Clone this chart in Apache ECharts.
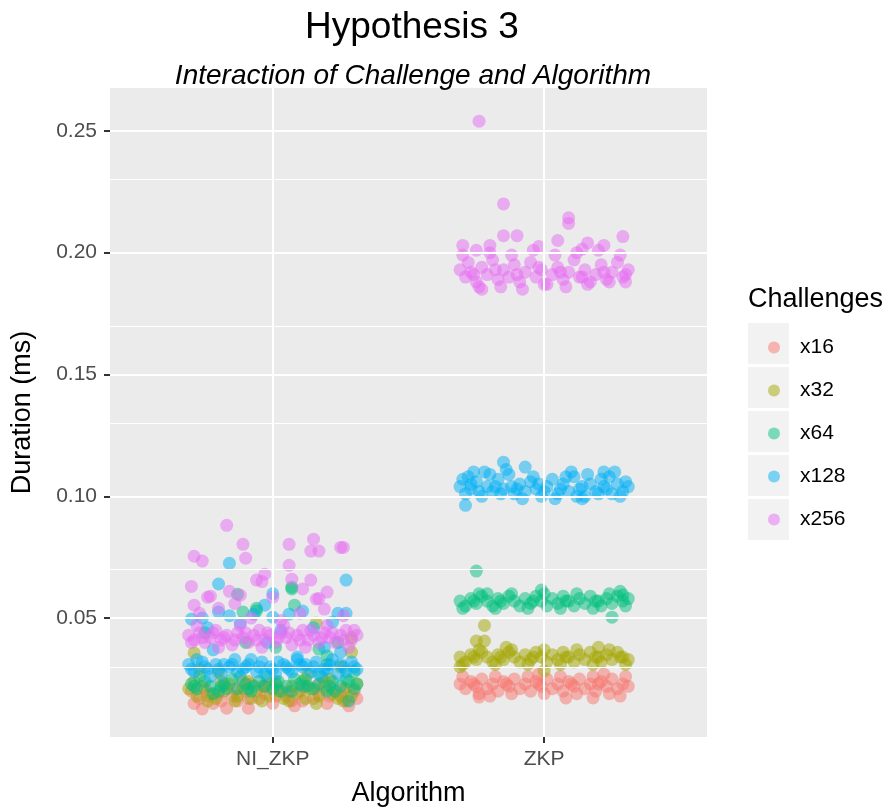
<!DOCTYPE html>
<html>
<head>
<meta charset="utf-8">
<script src="https://cdn.jsdelivr.net/npm/echarts@6/dist/echarts.min.js"></script>
<style>
  html, body { margin: 0; padding: 0; background: #fff; }
  #chart { width: 889px; height: 812px; }
</style>
</head>
<body>
<div id="chart"></div>
<script>
// categories / legend
const algorithms = ['NI_ZKP', 'ZKP']
const challenges = ['x16', 'x32', 'x64', 'x128', 'x256']
const colors = ['#F8766D', '#A3A500', '#00BF7D', '#00B0F6', '#E76BF3']
const yTicks = [0.05, 0.10, 0.15, 0.20, 0.25]
const yMinor = [0.025, 0.075, 0.125, 0.175, 0.225]

// points: [jitter offset from category, duration]
const ni16 = [[-0.30,0.020],[-0.27,0.017],[-0.25,0.021],[-0.22,0.015],[-0.20,0.019],[-0.18,0.022],[-0.15,0.018],[-0.13,0.016],[-0.10,0.020],[-0.08,0.023],[-0.05,0.017],[-0.03,0.019],[0.00,0.015],[0.02,0.021],[0.05,0.018],[0.07,0.016],[0.10,0.020],[0.12,0.022],[0.15,0.017],[0.17,0.019],[0.20,0.015],[0.22,0.021],[0.25,0.018],[0.27,0.016],[0.30,0.020],[-0.29,0.015],[-0.24,0.018],[-0.19,0.016],[-0.14,0.021],[-0.09,0.017],[-0.04,0.022],[0.01,0.018],[0.06,0.020],[0.11,0.016],[0.16,0.022],[0.21,0.018],[0.26,0.021],[0.31,0.017],[-0.26,0.0127],[-0.09,0.013],[0.08,0.014],[-0.11,0.024],[0.19,0.024],[-0.01,0.023],[0.28,0.014],[-0.17,0.013]]
const ni32 = [[-0.31,0.021],[-0.28,0.018],[-0.26,0.022],[-0.23,0.019],[-0.21,0.017],[-0.18,0.020],[-0.16,0.023],[-0.13,0.018],[-0.11,0.021],[-0.08,0.017],[-0.06,0.020],[-0.03,0.022],[-0.01,0.018],[0.02,0.020],[0.04,0.017],[0.07,0.022],[0.09,0.019],[0.12,0.017],[0.14,0.021],[0.17,0.018],[0.19,0.022],[0.22,0.019],[0.24,0.017],[0.27,0.021],[0.29,0.018],[0.31,0.023],[-0.29,0.024],[-0.24,0.016],[-0.19,0.024],[-0.14,0.016],[-0.09,0.024],[-0.04,0.016],[0.01,0.024],[0.06,0.016],[0.11,0.024],[0.16,0.015],[0.21,0.025],[0.26,0.016],[-0.29,0.0357],[0.29,0.036],[0.29,0.042],[0.16,0.048],[-0.20,0.028],[0.25,0.030],[0.13,0.027],[-0.27,0.029]]
const ni64 = [[-0.30,0.023],[-0.28,0.021],[-0.25,0.024],[-0.23,0.022],[-0.20,0.020],[-0.18,0.023],[-0.15,0.025],[-0.13,0.021],[-0.10,0.023],[-0.08,0.020],[-0.05,0.024],[-0.03,0.022],[0.00,0.021],[0.02,0.024],[0.05,0.022],[0.07,0.020],[0.10,0.023],[0.12,0.025],[0.15,0.021],[0.17,0.023],[0.20,0.020],[0.22,0.024],[0.25,0.022],[0.27,0.025],[0.30,0.021],[-0.27,0.026],[-0.22,0.019],[-0.17,0.021],[-0.12,0.026],[-0.07,0.022],[-0.02,0.026],[0.03,0.020],[0.08,0.025],[0.13,0.022],[0.18,0.026],[0.23,0.020],[0.28,0.024],[0.28,0.016],[-0.29,0.022],[-0.19,0.022],[-0.09,0.021],[0.01,0.023],[0.11,0.022],[0.21,0.022],[0.31,0.023],[-0.11,0.0525],[-0.06,0.053],[0.07,0.0627],[0.08,0.0553],[-0.13,0.0598],[0.07,0.062],[-0.06,0.054],[0.20,0.0344],[0.17,0.0373],[-0.10,0.040],[0.01,0.038],[0.24,0.040],[-0.25,0.044],[0.20,0.031],[0.30,0.028]]
const ni128 = [[-0.31,0.031],[-0.29,0.028],[-0.26,0.032],[-0.24,0.029],[-0.21,0.031],[-0.19,0.027],[-0.16,0.030],[-0.14,0.033],[-0.11,0.029],[-0.09,0.031],[-0.06,0.028],[-0.04,0.032],[-0.01,0.030],[0.01,0.027],[0.04,0.031],[0.06,0.029],[0.09,0.033],[0.11,0.030],[0.14,0.028],[0.16,0.032],[0.19,0.029],[0.21,0.031],[0.24,0.027],[0.26,0.030],[0.29,0.032],[0.31,0.029],[-0.28,0.033],[-0.23,0.026],[-0.18,0.031],[-0.13,0.028],[-0.08,0.033],[-0.03,0.027],[0.02,0.032],[0.07,0.028],[0.12,0.031],[0.17,0.027],[0.22,0.033],[0.27,0.028],[-0.30,0.029],[-0.25,0.030],[-0.20,0.029],[-0.15,0.031],[-0.10,0.030],[-0.05,0.030],[0.00,0.029],[0.05,0.030],[0.10,0.031],[0.15,0.030],[0.20,0.029],[0.25,0.031],[0.30,0.030],[-0.30,0.0496],[-0.26,0.050],[-0.20,0.0525],[-0.16,0.051],[-0.07,0.0516],[0.00,0.0504],[0.06,0.0516],[0.11,0.0529],[0.22,0.0484],[0.24,0.052],[0.27,0.052],[-0.24,0.046],[-0.12,0.048],[0.15,0.046],[0.03,0.045],[-0.22,0.037],[0.19,0.038],[0.25,0.036],[-0.02,0.040],[0.09,0.034],[-0.16,0.0725],[0.27,0.0656],[-0.20,0.064],[-0.03,0.0553],[0.00,0.060]]
const ni256 = [[-0.31,0.043],[-0.29,0.041],[-0.27,0.044],[-0.25,0.040],[-0.23,0.042],[-0.21,0.045],[-0.19,0.041],[-0.17,0.043],[-0.15,0.039],[-0.13,0.044],[-0.11,0.042],[-0.09,0.040],[-0.07,0.043],[-0.05,0.045],[-0.03,0.041],[-0.01,0.043],[0.01,0.040],[0.03,0.044],[0.05,0.042],[0.07,0.039],[0.09,0.043],[0.11,0.045],[0.13,0.041],[0.15,0.043],[0.17,0.040],[0.19,0.044],[0.21,0.042],[0.23,0.040],[0.25,0.043],[0.27,0.045],[0.29,0.041],[0.31,0.043],[-0.28,0.047],[-0.20,0.038],[-0.12,0.047],[-0.04,0.038],[0.04,0.047],[0.12,0.038],[0.20,0.047],[0.28,0.038],[-0.30,0.040],[-0.26,0.042],[-0.22,0.044],[-0.18,0.042],[-0.14,0.041],[-0.10,0.044],[-0.06,0.041],[-0.02,0.044],[0.02,0.042],[0.06,0.044],[0.10,0.041],[0.14,0.045],[0.18,0.042],[0.22,0.044],[0.26,0.041],[0.30,0.045],[-0.17,0.0881],[-0.11,0.0803],[-0.29,0.0754],[-0.26,0.0734],[-0.10,0.0746],[0.06,0.0803],[0.15,0.0824],[0.14,0.0775],[0.17,0.0775],[0.25,0.079],[0.26,0.079],[0.06,0.0717],[-0.03,0.068],[-0.06,0.0656],[-0.04,0.065],[-0.30,0.063],[-0.29,0.0553],[0.07,0.066],[0.14,0.0656],[0.11,0.062],[0.20,0.0607],[-0.24,0.0586],[-0.23,0.059],[-0.16,0.061],[-0.12,0.0594],[0.00,0.0586],[0.16,0.0578],[0.17,0.058],[0.19,0.0537],[0.26,0.051],[-0.27,0.052],[-0.20,0.054],[-0.08,0.050],[0.10,0.052],[-0.14,0.056],[0.03,0.049]]

const zk16 = [[-0.31,0.023],[-0.29,0.021],[-0.27,0.024],[-0.25,0.022],[-0.23,0.025],[-0.21,0.021],[-0.19,0.023],[-0.17,0.020],[-0.15,0.024],[-0.13,0.022],[-0.11,0.025],[-0.09,0.021],[-0.07,0.023],[-0.05,0.020],[-0.03,0.024],[-0.01,0.022],[0.01,0.025],[0.03,0.021],[0.05,0.023],[0.07,0.020],[0.09,0.024],[0.11,0.022],[0.13,0.025],[0.15,0.021],[0.17,0.023],[0.19,0.020],[0.21,0.024],[0.23,0.022],[0.25,0.025],[0.27,0.021],[0.29,0.023],[0.31,0.022],[-0.30,0.026],[-0.24,0.019],[-0.18,0.026],[-0.12,0.019],[-0.06,0.026],[0.00,0.019],[0.06,0.026],[0.12,0.019],[0.18,0.026],[0.24,0.019],[0.30,0.026],[-0.26,0.023],[-0.14,0.023],[-0.02,0.023],[0.10,0.023],[0.20,0.023],[-0.24,0.0176],[0.08,0.0172],[0.18,0.0172],[-0.20,0.018],[0.28,0.018],[-0.02,0.027],[0.22,0.027]]
const zk32 = [[-0.31,0.034],[-0.29,0.032],[-0.27,0.035],[-0.25,0.033],[-0.23,0.036],[-0.21,0.034],[-0.19,0.032],[-0.17,0.035],[-0.15,0.033],[-0.13,0.036],[-0.11,0.034],[-0.09,0.032],[-0.07,0.035],[-0.05,0.033],[-0.03,0.036],[-0.01,0.034],[0.01,0.032],[0.03,0.035],[0.05,0.033],[0.07,0.036],[0.09,0.034],[0.11,0.032],[0.13,0.035],[0.15,0.033],[0.17,0.036],[0.19,0.034],[0.21,0.032],[0.23,0.035],[0.25,0.033],[0.27,0.036],[0.29,0.034],[0.31,0.033],[-0.30,0.031],[-0.24,0.037],[-0.18,0.031],[-0.12,0.037],[-0.06,0.031],[0.00,0.037],[0.06,0.031],[0.12,0.037],[0.18,0.031],[0.24,0.037],[0.30,0.031],[-0.26,0.034],[-0.16,0.034],[-0.04,0.034],[0.08,0.034],[0.20,0.034],[0.28,0.034],[-0.22,0.047],[-0.25,0.0406],[-0.22,0.0406],[0.00,0.0283],[-0.31,0.030],[0.20,0.038],[-0.14,0.038]]
const zk64 = [[-0.31,0.057],[-0.29,0.055],[-0.27,0.058],[-0.25,0.056],[-0.23,0.059],[-0.21,0.057],[-0.19,0.055],[-0.17,0.058],[-0.15,0.056],[-0.13,0.059],[-0.11,0.057],[-0.09,0.055],[-0.07,0.058],[-0.05,0.056],[-0.03,0.059],[-0.01,0.057],[0.01,0.055],[0.03,0.058],[0.05,0.056],[0.07,0.059],[0.09,0.057],[0.11,0.055],[0.13,0.058],[0.15,0.056],[0.17,0.059],[0.19,0.057],[0.21,0.055],[0.23,0.058],[0.25,0.056],[0.27,0.059],[0.29,0.057],[0.31,0.058],[-0.30,0.054],[-0.24,0.060],[-0.18,0.054],[-0.12,0.060],[-0.06,0.054],[0.00,0.060],[0.06,0.054],[0.12,0.060],[0.18,0.054],[0.24,0.060],[0.30,0.055],[-0.26,0.057],[-0.16,0.057],[-0.04,0.057],[0.08,0.057],[0.20,0.057],[-0.25,0.0693],[0.25,0.0504],[-0.01,0.0615],[0.28,0.061],[0.29,0.0595],[-0.21,0.060]]
const zk128 = [[-0.31,0.104],[-0.29,0.101],[-0.28,0.108],[-0.27,0.103],[-0.25,0.106],[-0.23,0.100],[-0.21,0.104],[-0.19,0.102],[-0.17,0.107],[-0.15,0.103],[-0.13,0.109],[-0.11,0.101],[-0.09,0.105],[-0.07,0.102],[-0.05,0.106],[-0.03,0.103],[-0.01,0.100],[0.01,0.104],[0.03,0.107],[0.05,0.101],[0.07,0.105],[0.09,0.102],[0.11,0.108],[0.13,0.103],[0.15,0.100],[0.17,0.105],[0.19,0.102],[0.21,0.107],[0.23,0.103],[0.25,0.101],[0.27,0.105],[0.29,0.102],[0.31,0.104],[-0.30,0.107],[-0.24,0.102],[-0.20,0.109],[-0.16,0.101],[-0.12,0.104],[-0.08,0.099],[-0.04,0.108],[0.00,0.102],[0.04,0.099],[0.08,0.108],[0.12,0.100],[0.16,0.109],[0.20,0.101],[0.24,0.108],[0.28,0.100],[-0.27,0.105],[-0.18,0.104],[-0.10,0.103],[-0.02,0.105],[0.06,0.103],[0.14,0.104],[0.22,0.104],[0.30,0.106],[-0.26,0.110],[-0.14,0.111],[0.10,0.110],[0.22,0.110],[-0.29,0.0963],[-0.15,0.114],[-0.07,0.112],[0.14,0.099],[-0.22,0.110],[0.26,0.110]]
const zk256 = [[-0.31,0.193],[-0.29,0.190],[-0.28,0.196],[-0.27,0.192],[-0.25,0.188],[-0.23,0.194],[-0.21,0.191],[-0.19,0.197],[-0.17,0.189],[-0.15,0.193],[-0.13,0.190],[-0.11,0.195],[-0.09,0.188],[-0.07,0.192],[-0.05,0.196],[-0.03,0.190],[-0.01,0.193],[0.01,0.187],[0.03,0.191],[0.05,0.194],[0.07,0.189],[0.09,0.192],[0.11,0.197],[0.13,0.190],[0.15,0.193],[0.17,0.188],[0.19,0.191],[0.21,0.195],[0.23,0.189],[0.25,0.192],[0.27,0.196],[0.29,0.190],[0.31,0.193],[-0.30,0.199],[-0.24,0.186],[-0.20,0.200],[-0.16,0.186],[-0.12,0.199],[-0.08,0.185],[-0.04,0.201],[0.00,0.187],[0.04,0.199],[0.08,0.186],[0.12,0.200],[0.16,0.187],[0.20,0.201],[0.24,0.188],[0.28,0.199],[0.30,0.188],[-0.26,0.191],[-0.18,0.193],[-0.10,0.191],[-0.02,0.194],[0.06,0.192],[0.14,0.190],[0.22,0.192],[0.30,0.191],[-0.24,0.254],[-0.15,0.220],[0.09,0.2143],[0.09,0.212],[0.29,0.2066],[-0.15,0.207],[-0.10,0.207],[-0.30,0.203],[-0.23,0.185],[-0.25,0.201],[-0.20,0.203],[0.16,0.204],[0.22,0.203],[0.14,0.2015],[-0.02,0.2025],[0.05,0.205]]

const niGroups = [ni16, ni32, ni64, ni128, ni256]
const zkGroups = [zk16, zk32, zk64, zk128, zk256]

const font = 'Liberation Sans, Arial, Helvetica, sans-serif'
const chart = echarts.init(document.getElementById('chart'))

const series = challenges.map((name, i) => ({
    name: name,
    type: 'scatter',
    symbolSize: 13,
    itemStyle: { color: colors[i], opacity: 0.5 },
    emphasis: { disabled: true },
    z: 3,
    data: niGroups[i].map(p => [1 + p[0], p[1]])
        .concat(zkGroups[i].map(p => [2 + p[0], p[1]]))
}))

// ggplot-like white grid lines behind the points
const gridLines = []
yTicks.forEach(v => gridLines.push({ yAxis: v, lineStyle: { width: 2 } }))
yMinor.forEach(v => gridLines.push({ yAxis: v, lineStyle: { width: 1 } }))
algorithms.forEach((a, i) => gridLines.push({ xAxis: i + 1, lineStyle: { width: 2 } }))

series.unshift({
    type: 'line',
    data: [],
    z: 1,
    silent: true,
    markLine: {
        silent: true,
        symbol: 'none',
        label: { show: false },
        lineStyle: { color: '#FFFFFF', type: 'solid' },
        data: gridLines
    }
})

// grey legend key boxes
const keyBoxes = challenges.map((c, i) => ({
    type: 'rect',
    left: 748,
    top: 323 + i * 44,
    shape: { width: 41, height: 41 },
    style: { fill: '#F2F2F2' }
}))

chart.setOption({
    animation: false,
    textStyle: { fontFamily: font },
    title: [
        {
            text: 'Hypothesis 3',
            left: 407,
            top: 4,
            textAlign: 'center',
            textStyle: { fontSize: 37, fontWeight: 'normal', color: '#000', fontFamily: font }
        },
        {
            text: 'Interaction of Challenge and Algorithm',
            left: 408,
            top: 57,
            textAlign: 'center',
            textStyle: { fontSize: 28, fontWeight: 'normal', fontStyle: 'italic', color: '#000', fontFamily: font }
        }
    ],
    graphic: keyBoxes.concat([{
        type: 'text',
        left: 748,
        top: 286,
        style: { text: 'Challenges', fill: '#000', font: '27px ' + font }
    }]),
    legend: {
        data: challenges,
        orient: 'vertical',
        left: 763,
        top: 332,
        itemGap: 22,
        itemWidth: 12,
        itemHeight: 12,
        icon: 'circle',
        selectedMode: false,
        itemStyle: { opacity: 0.5 },
        textStyle: { fontSize: 21, color: '#000', fontFamily: font, padding: [0, 0, 0, 15] }
    },
    grid: {
        left: 110,
        right: 182,
        top: 88,
        bottom: 74,
        show: true,
        backgroundColor: '#EBEBEB',
        borderWidth: 0
    },
    xAxis: {
        type: 'value',
        min: 0.4,
        max: 2.6,
        name: 'Algorithm',
        nameLocation: 'middle',
        nameGap: 43,
        nameTextStyle: { fontSize: 27, color: '#000', fontFamily: font },
        axisLine: { show: false },
        axisTick: { show: true, customValues: [1, 2], length: 6, lineStyle: { color: '#333', width: 2 } },
        axisLabel: {
            customValues: [1, 2],
            formatter: v => algorithms[Math.round(v) - 1],
            fontSize: 21,
            color: '#4D4D4D',
            margin: 12
        },
        splitLine: { show: false }
    },
    yAxis: {
        type: 'value',
        min: 0.0012,
        max: 0.2676,
        name: 'Duration (ms)',
        nameLocation: 'middle',
        nameGap: 74,
        nameTextStyle: { fontSize: 27, color: '#000', fontFamily: font },
        axisLine: { show: false },
        axisTick: { show: true, customValues: yTicks, length: 6, lineStyle: { color: '#333', width: 2 } },
        axisLabel: {
            customValues: yTicks,
            formatter: v => v.toFixed(2),
            fontSize: 21,
            color: '#4D4D4D',
            margin: 13
        },
        splitLine: { show: false }
    },
    series: series
})
</script>
</body>
</html>
